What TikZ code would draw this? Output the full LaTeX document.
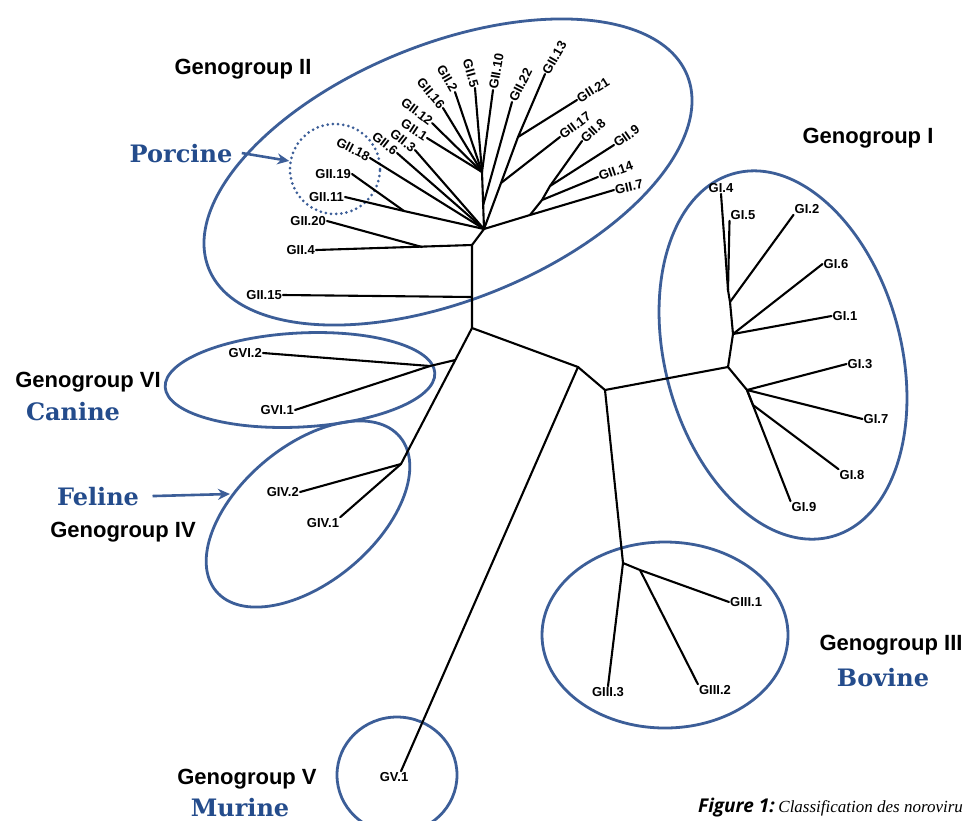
\documentclass[tikz,border=0pt]{standalone}
\usepackage{fontspec}
\setmainfont{Liberation Sans}
\newfontfamily\slabfont{DejaVu Serif}
\newfontfamily\figsans{Open Sans}
\newfontfamily\figserif{Liberation Serif}
\usepackage{tikz}
\usetikzlibrary{arrows.meta}
\definecolor{ringblue}{RGB}{60,94,152}
\definecolor{hostblue}{RGB}{36,76,140}
\tikzset{
  branch/.style={line width=2.1pt,line cap=round,line join=round},
  leaf/.style={font=\fontsize{13}{15}\selectfont\bfseries,inner sep=1pt},
  group/.style={font=\fontsize{22}{26}\selectfont\bfseries,anchor=base},
  host/.style={font=\fontsize{24}{28}\selectfont\slabfont\bfseries,text=hostblue,anchor=base},
  ring/.style={draw=ringblue,line width=2.8pt}
}
\tikzstyle{pointer} = [line width=2.6pt,ringblue,-{Stealth[length=12pt,width=11pt]}]

\begin{document}
\begin{tikzpicture}[x=1pt,y=-1pt]
  \useasboundingbox (0,0) rectangle (966,820);
  \clip (0,0) rectangle (966,820);
  \fill[white] (0,0) rectangle (966,820);

  % group rings
  \draw[ring,rotate around={22:(448,172)}] (448,172) ellipse [x radius=258,y radius=128];
  \draw[ring,rotate around={105:(783,355)}] (783,355) ellipse [x radius=188,y radius=118];
  \draw[ring] (665,635) ellipse [x radius=123,y radius=93];
  \draw[ring,rotate around={3:(300,380)}] (300,380) ellipse [x radius=135,y radius=47];
  \draw[ring,rotate around={40:(308,514)}] (308,514) ellipse [x radius=120,y radius=68];
  \draw[ring] (397,775) ellipse [x radius=60,y radius=58];
  \node[circle,draw=ringblue,minimum size=90pt,inner sep=0pt,line width=3pt,
    dash pattern=on 0pt off 5.2pt,line cap=round] (pigring) at (335,169) {};

  % inner points of the tree
  \coordinate (r) at (472,328);
  \coordinate (t15) at (472,297);
  \coordinate (t4) at (472,245);
  \coordinate (b) at (484,229);
  \coordinate (j20) at (422,247);
  \coordinate (n1911) at (404,211);
  \coordinate (a) at (482,172);
  \coordinate (e) at (483.2,205);
  \coordinate (c) at (501,183);
  \coordinate (d) at (518,137);
  \coordinate (n7) at (530,215);
  \coordinate (n14) at (542,200);
  \coordinate (n89) at (550,186);
  \coordinate (m) at (578,367);
  \coordinate (n) at (605,390);
  \coordinate (v) at (455.3,360);
  \coordinate (v6) at (430,366);
  \coordinate (g4) at (401,464);
  \coordinate (p0) at (728,367);
  \coordinate (p1) at (733,334);
  \coordinate (p2) at (730,302);
  \coordinate (p3) at (728,290);
  \coordinate (q1) at (747,390);
  \coordinate (q2) at (753,405);
  \coordinate (k0) at (623,563);
  \coordinate (k1) at (640,570);

  % genogroup II leaves
  \node[leaf,anchor=east,rotate=-27] (gii18) at (370,158) {GII.18};
  \node[leaf,anchor=east,rotate=-38] (gii6) at (397,153) {GII.6};
  \node[leaf,anchor=east,rotate=-38] (gii3) at (415,150) {GII.3};
  \node[leaf,anchor=east,rotate=-33] (gii1) at (427,138) {GII.1};
  \node[leaf,anchor=east,rotate=-37] (gii12) at (432,123) {GII.12};
  \node[leaf,anchor=east,rotate=-50] (gii16) at (443,108) {GII.16};
  \node[leaf,anchor=east,rotate=-60] (gii2) at (455,92) {GII.2};
  \node[leaf,anchor=east,rotate=-74] (gii5) at (475,88) {GII.5};
  \node[leaf,anchor=west,rotate=80] (gii10) at (493,90) {GII.10};
  \node[leaf,anchor=west,rotate=63] (gii22) at (512,102) {GII.22};
  \node[leaf,anchor=west,rotate=60] (gii13) at (545,74) {GII.13};
  \node[leaf,anchor=west,rotate=32] (gii21) at (577,100) {GII.21};
  \node[leaf,anchor=west,rotate=37] (gii17) at (560,137) {GII.17};
  \node[leaf,anchor=west,rotate=43] (gii8) at (582,141) {GII.8};
  \node[leaf,anchor=west,rotate=35] (gii9) at (614,145) {GII.9};
  \node[leaf,anchor=west,rotate=19] (gii14) at (598,177) {GII.14};
  \node[leaf,anchor=west,rotate=12] (gii7) at (614,190) {GII.7};
  \node[leaf,anchor=east] (gii19) at (352,174) {GII.19};
  \node[leaf,anchor=east] (gii11) at (345,197) {GII.11};
  \node[leaf,anchor=east] (gii20) at (327,221) {GII.20};
  \node[leaf,anchor=east] (gii4) at (316,250) {GII.4};
  \node[leaf,anchor=east] (gii15) at (283,295) {GII.15};

  % other leaves
  \node[leaf] (gi4) at (721,188) {GI.4};
  \node[leaf] (gi5) at (743,215) {GI.5};
  \node[leaf] (gi2) at (807,209) {GI.2};
  \node[leaf] (gi6) at (836,264) {GI.6};
  \node[leaf] (gi1) at (845,316) {GI.1};
  \node[leaf] (gi3) at (860,364) {GI.3};
  \node[leaf] (gi7) at (876,419) {GI.7};
  \node[leaf] (gi8) at (852,475) {GI.8};
  \node[leaf] (gi9) at (804,507) {GI.9};
  \node[leaf,anchor=west] (giii1) at (729,602) {GIII.1};
  \node[leaf] (giii2) at (715,690) {GIII.2};
  \node[leaf] (giii3) at (608,692) {GIII.3};
  \node[leaf,anchor=east] (gvi2) at (263,353) {GVI.2};
  \node[leaf,anchor=east] (gvi1) at (295,410) {GVI.1};
  \node[leaf,anchor=east] (giv2) at (300,492) {GIV.2};
  \node[leaf] (giv1) at (323,523) {GIV.1};
  \node[leaf] (gv1) at (394,777) {GV.1};

  % branches
  \draw[branch] (r) -- (t4) -- (b);
  \draw[branch] (gii15.east) -- (t15);
  \draw[branch] (gii4.east) -- (t4);
  \draw[branch] (gii20.east) -- (j20);
  \draw[branch] (gii19.east) -- (n1911);
  \draw[branch] (gii11.east) -- (n1911) -- (b);
  \draw[branch] (gii18.east) -- (b);
  \draw[branch] (gii6.east) -- (b);
  \draw[branch] (gii3.east) -- (b);
  \draw[branch] (b) -- (a);
  \draw[branch] (gii1.east) -- (a);
  \draw[branch] (gii12.east) -- (a);
  \draw[branch] (gii16.east) -- (a);
  \draw[branch] (gii2.east) -- (a);
  \draw[branch] (gii5.east) -- (a);
  \draw[branch] (gii10.west) -- (a);
  \draw[branch] (gii22.west) -- (e);
  \draw[branch] (b) -- (d);
  \draw[branch] (gii17.west) -- (c);
  \draw[branch] (gii13.west) -- (d);
  \draw[branch] (gii21.west) -- (d);
  \draw[branch] (b) -- (n7) -- (gii7.west);
  \draw[branch] (n7) -- (n14) -- (gii14.west);
  \draw[branch] (n14) -- (n89) -- (gii8.west);
  \draw[branch] (n89) -- (gii9.west);

  \draw[branch] (r) -- (m) -- (n) -- (p0);
  \draw[branch] (m) -- ([xshift=7pt]gv1.north);
  \draw[branch] (n) -- (k0) -- (giii3.north);
  \draw[branch] (k0) -- (k1) -- (giii1.west);
  \draw[branch] (k1) -- (giii2.north west);
  \draw[branch] (r) -- (g4) -- (giv1.north east);
  \draw[branch] (giv2.east) -- (g4);
  \draw[branch] (v) -- (v6);
  \draw[branch] (gvi2.east) -- (v6);
  \draw[branch] (gvi1.east) -- (v6);

  \draw[branch] (p0) -- (p1) -- (p2) -- (p3) -- (gi4.south);
  \draw[branch] (p3) -- (gi5.south west);
  \draw[branch] (p2) -- (gi2.south west);
  \draw[branch] (p1) -- (gi6.west);
  \draw[branch] (p1) -- (gi1.west);
  \draw[branch] (p0) -- (q1) -- (q2) -- (gi8.north west);
  \draw[branch] (q1) -- (gi3.west);
  \draw[branch] (q1) -- (gi7.west);
  \draw[branch] (q1) -- (gi9.north west);

  % names
  \node[group] (nameii) at (243,74) {Genogroup II};
  \node[group] (namei) at (868,143) {Genogroup I};
  \node[group] (namevi) at (88,387) {Genogroup VI};
  \node[group] (nameiv) at (123,537) {Genogroup IV};
  \node[group] (namev) at (247,784) {Genogroup V};
  \node[group] (nameiii) at (891,650) {Genogroup III};
  \node[host] (porcine) at (181,162) {Porcine};
  \node[host] (canine) at (73,420) {Canine};
  \node[host] (feline) at (98,505) {Feline};
  \node[host] (murine) at (240,816) {Murine};
  \node[host] (bovine) at (883,686) {Bovine};

  \coordinate (felinetip) at (230,494);
  \draw[pointer] ([xshift=6pt]porcine.east) -- (pigring.170);
  \draw[pointer] ([xshift=10pt]feline.east) -- (felinetip);

  \node[anchor=base west,inner sep=0pt] (caption) at (698,812)
    {{\fontsize{19}{22}\selectfont\figsans\bfseries\itshape Figure 1:}
     {\fontsize{17}{22}\selectfont\figserif\itshape Classification des noroviru}};
\end{tikzpicture}
\end{document}
